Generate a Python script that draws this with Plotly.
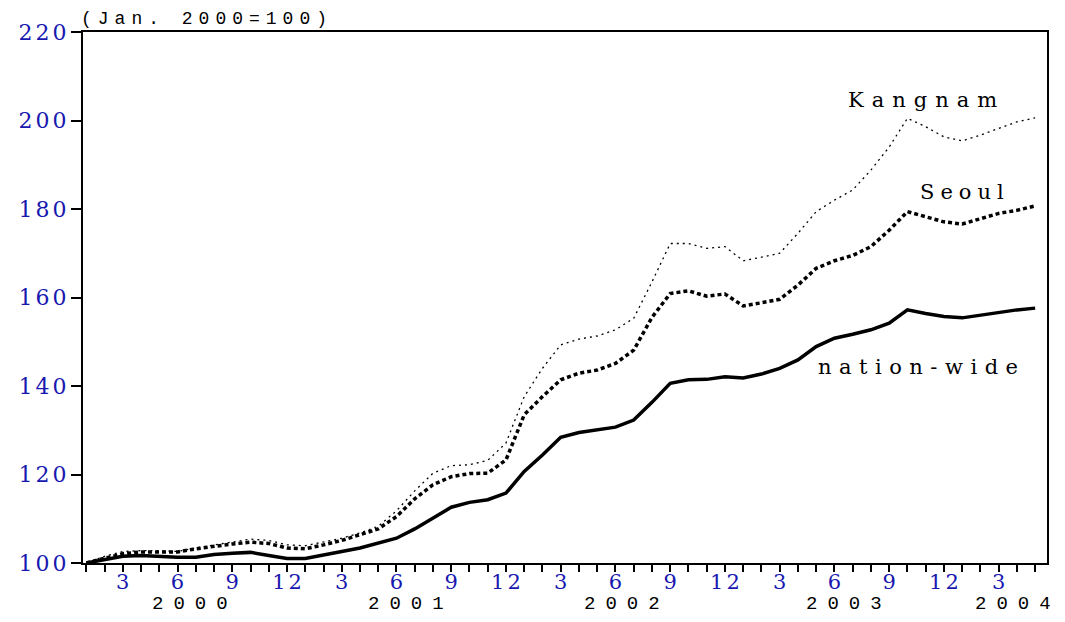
import plotly.graph_objects as go

# ---------------- data ----------------
month_of_year = [1, 2, 3, 4, 5, 6, 7, 8, 9, 10, 11, 12,
                 1, 2, 3, 4, 5, 6, 7, 8, 9, 10, 11, 12,
                 1, 2, 3, 4, 5, 6, 7, 8, 9, 10, 11, 12,
                 1, 2, 3, 4, 5, 6, 7, 8, 9, 10, 11, 12,
                 1, 2, 3, 4, 5]
year_labels = ["2000", "2001", "2002", "2003", "2004"]

nation_wide = [100.0, 100.7, 101.5, 101.7, 101.5, 101.3, 101.3, 101.9, 102.2, 102.4, 101.7, 101.0,
               101.0, 101.7, 102.6, 103.4, 104.5, 105.6, 107.7, 110.2, 112.6, 113.7, 114.3, 115.8,
               120.7, 124.4, 128.4, 129.5, 130.1, 130.7, 132.3, 136.3, 140.6, 141.4, 141.5, 142.1,
               141.8, 142.7, 144.0, 145.9, 148.9, 150.8, 151.7, 152.7, 154.2, 157.2, 156.4, 155.7,
               155.4, 156.0, 156.6, 157.2, 157.6]
seoul = [100.0, 101.1, 102.1, 102.5, 102.5, 102.5, 103.2, 103.8, 104.3, 104.7, 104.4, 103.4,
         103.2, 104.1, 105.1, 106.4, 107.7, 110.5, 114.5, 117.7, 119.5, 120.2, 120.3, 123.3,
         133.5, 137.6, 141.4, 142.9, 143.6, 145.1, 148.1, 155.5, 160.9, 161.5, 160.3, 160.8,
         158.1, 158.8, 159.6, 162.8, 166.6, 168.3, 169.5, 171.5, 175.2, 179.4, 178.2, 177.1,
         176.6, 177.9, 179.0, 179.7, 180.7]
kangnam = [100.0, 101.5, 102.6, 102.8, 102.8, 102.6, 103.4, 104.1, 104.7, 105.4, 105.1, 104.1,
           103.9, 104.7, 105.6, 106.8, 108.3, 111.8, 116.3, 120.3, 122.0, 122.2, 123.2, 127.1,
           137.6, 144.0, 149.3, 150.6, 151.3, 152.7, 155.3, 163.5, 172.2, 172.2, 171.1, 171.5,
           168.3, 169.1, 170.0, 174.5, 179.4, 182.0, 184.3, 188.8, 194.0, 200.5, 198.6, 196.3,
           195.4, 196.7, 198.2, 199.7, 200.6]
series_names = ["Kangnam", "Seoul", "nation-wide"]
y_tick_values = [100, 120, 140, 160, 180, 200, 220]

# ---------------- styling ----------------
BLUE = "#1818b0"
x_idx = list(range(len(month_of_year)))


def spaced(txt, px):
    """Letter-space every character except the last (no trailing gap)."""
    if len(txt) < 2:
        return txt
    return f'<span style="letter-spacing:{px}px">{txt[:-1]}</span>{txt[-1]}'


x_ticktext = [spaced(str(m), 3) if m % 3 == 0 else "" for m in month_of_year]
y_ticktext = [spaced(str(v), 3) for v in y_tick_values]

fig = go.Figure()
fig.add_trace(go.Scatter(x=x_idx, y=kangnam, mode="lines", name=series_names[0],
                         line=dict(color="black", width=1.3, dash="2px,4px")))
fig.add_trace(go.Scatter(x=x_idx, y=seoul, mode="lines", name=series_names[1],
                         line=dict(color="black", width=3.5, dash="4px,3px")))
fig.add_trace(go.Scatter(x=x_idx, y=nation_wide, mode="lines", name=series_names[2],
                         line=dict(color="black", width=3.5)))

# series labels: (x index, y value, letter spacing)
label_pos = [(45.85, 204.6, 8), (48.0, 183.9, 6), (45.6, 144.4, 7.5)]
for name, (lx, ly, sp) in zip(series_names, label_pos):
    fig.add_annotation(x=lx, y=ly, xref="x", yref="y", text=spaced(name, sp), showarrow=False,
                       font=dict(family="DejaVu Serif", size=21, color="black"))

# year labels under the axis
year_pos = [5.7, 17.5, 29.35, 41.5, 50.8]
for yl, xp in zip(year_labels, year_pos):
    fig.add_annotation(x=xp, y=-0.0772, xref="x", yref="paper", text=spaced(yl, 10),
                       showarrow=False, yanchor="middle", borderpad=0,
                       font=dict(family="Liberation Mono", size=19, color="black"))

fig.add_annotation(x=0, y=1.0245, xref="paper", yref="paper", text=spaced("(Jan. 2000=100)", 6),
                   showarrow=False, xanchor="left", yanchor="middle", xshift=-4,
                   font=dict(family="Liberation Mono", size=18, color="black"))

fig.update_layout(
    width=1065, height=622,
    margin=dict(l=83, r=18, t=32, b=59),
    paper_bgcolor="white", plot_bgcolor="white",
    showlegend=False,
    xaxis=dict(range=[-0.18, 52.65], tickmode="array", tickvals=x_idx, ticktext=x_ticktext,
               ticks="outside", ticklen=7, tickwidth=2, tickcolor="black", ticklabelstandoff=-8,
               showline=True, linecolor="black", linewidth=2, mirror=True,
               showgrid=False, zeroline=False,
               tickfont=dict(family="DejaVu Serif", size=21, color=BLUE)),
    yaxis=dict(range=[100, 220], tickmode="array", tickvals=y_tick_values, ticktext=y_ticktext,
               ticks="outside", ticklen=10, tickwidth=1.5, tickcolor="black",
               showline=True, linecolor="black", linewidth=2, mirror=True,
               showgrid=False, zeroline=False,
               tickfont=dict(family="DejaVu Serif", size=22, color=BLUE)),
)

# remove the page's default body margin so the 1065x622 figure fills the window exactly
fig.write_html("out.html", config={"displayModeBar": False},
               post_script="document.body.style.margin='0';document.body.style.overflow='hidden';")
